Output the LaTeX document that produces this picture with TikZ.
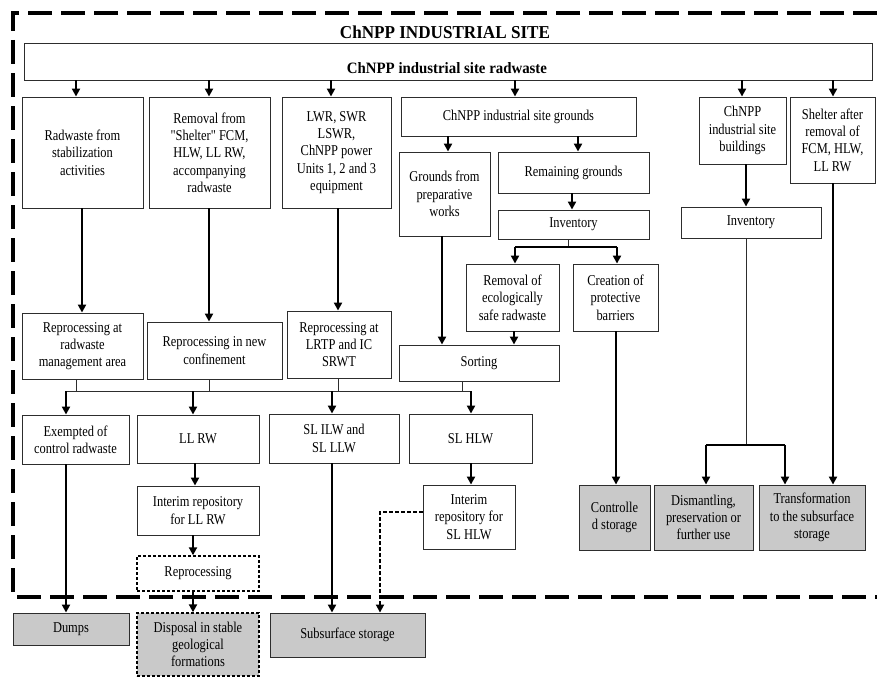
\documentclass[tikz,border=0pt]{standalone}
\usepackage{fontspec}
\setmainfont[FakeStretch=0.83,Ligatures=TeXOff]{Liberation Serif}
\newfontfamily\hdfont[FakeStretch=0.94]{Liberation Serif}
\usetikzlibrary{arrows.meta}
\definecolor{boxgray}{RGB}{201,201,201}
\definecolor{linegray}{RGB}{45,45,45}
\begin{document}
\begin{tikzpicture}[x=1pt,y=-1pt,
  box/.style={draw=linegray, line width=0.9pt, fill=white, align=center, inner sep=1pt,
    font=\fontsize{15}{17.3}\selectfont},
  gbox/.style={box, fill=boxgray},
  dbox/.style={box, draw=black, line width=1.4pt, dash pattern=on 3pt off 2pt},
  sz/.style 2 args={minimum width=#1pt, minimum height=#2pt},
  arr/.style={line width=2pt, draw=black, -{Triangle[width=8pt,length=8pt]}},
  darr/.style={line width=1.8pt, draw=black, dash pattern=on 4pt off 2pt, -{Triangle[width=8pt,length=8pt]}},
  thinline/.style={line width=1pt, draw=linegray},
  thickline/.style={line width=2pt, draw=black},
  border/.style={line width=4pt, draw=black, dash pattern=on 24pt off 9pt}
]
\useasboundingbox (0,0) rectangle (877,677);

% outer dashed border
\draw[border] (877,13) -- (13,13) -- (13,597) -- (877,597);

% title and top box
\node[font=\hdfont\bfseries\fontsize{18.2}{20}\selectfont] (title) at (445,32) {ChNPP INDUSTRIAL SITE};
\node[box, sz={848}{37}] (top) at (448,61.5) {};
\node[font=\hdfont\bfseries\fontsize{15.8}{18}\selectfont] (toptext) at (447,68) {ChNPP industrial site radwaste};

% first row
\node[box, sz={121}{111}] (B1) at (82.5,152.5) {Radwaste from\\stabilization\\activities};
\node[box, sz={121}{111}] (B2) at (209.5,152.5) {Removal from\\"Shelter" FCM,\\HLW, LL RW,\\accompanying\\radwaste};
\node[box, sz={109}{111}] (B3) at (336.5,152.5) {LWR, SWR\\LSWR,\\ChNPP power\\Units 1, 2 and 3\\equipment};
\node[box, sz={235}{39}] (B4) at (518.5,116.5) {ChNPP industrial site grounds};
\node[box, sz={87}{67}] (B5) at (742.5,130.5) {ChNPP\\industrial site\\buildings};
\node[box, sz={85}{86}] (B6) at (832.5,140) {Shelter after\\removal of\\FCM, HLW,\\LL RW};

% grounds column
\node[box, sz={91}{84}] (G1) at (444.5,194) {Grounds from\\preparative\\works};
\node[box, sz={151}{41}] (G2) at (573.5,172.5) {Remaining grounds};
\node[box, sz={151}{29}] (G3) at (573.5,224.5) {Inventory};
\node[box, sz={93}{67}] (G4) at (512.5,297.5) {Removal of\\ecologically\\safe radwaste};
\node[box, sz={85}{67}] (G5) at (615.5,297.5) {Creation of\\protective\\barriers};
\node[box, sz={160}{36}] (G6) at (479,363) {Sorting};

% buildings inventory
\node[box, sz={140}{31}] (R2) at (751,222.5) {Inventory};

% reprocessing row
\node[box, sz={121}{66}] (P1) at (82.5,346) {Reprocessing at\\radwaste\\management area};
\node[box, sz={135}{57}] (P2) at (214.5,350.5) {Reprocessing in new\\confinement};
\node[box, sz={104}{67}] (P3) at (339,344.5) {Reprocessing at\\LRTP and IC\\SRWT};

% classification row
\node[box, sz={107}{49}] (E1) at (75.5,439.5) {Exempted of\\control radwaste};
\node[box, sz={122}{48}] (E2) at (198,439) {LL RW};
\node[box, sz={130}{49}] (E3) at (334,438.5) {SL ILW and\\SL LLW};
\node[box, sz={123}{49}] (E4) at (470.5,438.5) {SL HLW};

% interim and reprocessing
\node[box, sz={122}{49}] (I1) at (198,510.5) {Interim repository\\for LL RW};
\node[dbox, sz={122}{35}] (RP) at (198,573.5) {Reprocessing};
\node[box, sz={92}{64}] (I2) at (469,517) {Interim\\repository for\\SL HLW};

% final (grey) boxes
\node[gbox, sz={116}{32}] (DU) at (71,629) {Dumps};
\node[dbox, fill=boxgray, sz={122}{63}] (DI) at (198,644.5) {Disposal in stable\\geological\\formations};
\node[gbox, sz={155}{44}] (SU) at (347.5,635) {Subsurface storage};
\node[gbox, sz={71}{65}] (C1) at (614.5,517.5) {Controlle\\d storage};
\node[gbox, sz={99}{65}] (C2) at (703.5,517.5) {Dismantling,\\preservation or\\further use};
\node[gbox, sz={106}{65}] (C3) at (812,517.5) {Transformation\\to the subsurface\\storage};

% arrows from top box
\draw[arr] (top.south -| 76,0) -- (B1.north -| 76,0);
\draw[arr] (top.south -| 209,0) -- (B2.north -| 209,0);
\draw[arr] (top.south -| 331,0) -- (B3.north -| 331,0);
\draw[arr] (top.south -| 515,0) -- (B4.north -| 515,0);
\draw[arr] (top.south -| 742,0) -- (B5.north -| 742,0);
\draw[arr] (top.south -| 833,0) -- (B6.north -| 833,0);

% first row down to reprocessing
\draw[arr] (B1.south -| 82,0) -- (P1.north -| 82,0);
\draw[arr] (B2.south -| 209,0) -- (P2.north -| 209,0);
\draw[arr] (B3.south -| 338,0) -- (P3.north -| 338,0);

% grounds
\draw[arr] (B4.south -| 448,0) -- (G1.north -| 448,0);
\draw[arr] (B4.south -| 578,0) -- (G2.north -| 578,0);
\draw[arr] (G2.south -| 572,0) -- (G3.north -| 572,0);
\coordinate (gsplit) at (568,247);
\draw[thinline] (G3.south -| gsplit) -- (gsplit);
\draw[thickline] (515,247) -- (617,247);
\draw[arr] (515,247) -- (G4.north -| 515,0);
\draw[arr] (617,247) -- (G5.north -| 617,0);
\draw[arr] (G1.south -| 442,0) -- (G6.north -| 442,0);
\draw[arr] (G4.south -| 514,0) -- (G6.north -| 514,0);

% distribution bus
\coordinate (busL) at (66,391);
\coordinate (busR) at (471,391);
\draw[thinline] (busL) -- (busR);
\draw[thinline] (P1.south -| 76,0) -- (76,391);
\draw[thinline] (P2.south -| 209,0) -- (209,391);
\draw[thinline] (P3.south -| 338,0) -- (338,391);
\draw[thinline] (G6.south -| 462,0) -- (462,391);
\draw[arr] (busL) -- (E1.north -| busL);
\draw[arr] (193,391) -- (E2.north -| 193,0);
\draw[arr] (332,391) -- (E3.north -| 332,0);
\draw[arr] (busR) -- (E4.north -| busR);

% lower chains
\draw[arr] (E1.south -| 66,0) -- (DU.north -| 66,0);
\draw[arr] (E2.south -| 195,0) -- (I1.north -| 195,0);
\draw[arr] (I1.south -| 193,0) -- (RP.north -| 193,0);
\draw[arr] (RP.south -| 193,0) -- (DI.north -| 193,0);
\draw[arr] (E3.south -| 332,0) -- (SU.north -| 332,0);
\draw[arr] (E4.south -| 471,0) -- (I2.north -| 471,0);
\coordinate (dcorner) at (380,512);
\draw[darr] (I2.west |- dcorner) -- (dcorner) -- (SU.north -| dcorner);

% right side
\draw[arr] (B5.south -| 746,0) -- (R2.north -| 746,0);
\coordinate (rsplit) at (746,445);
\draw[thinline] (R2.south -| rsplit) -- (rsplit);
\draw[thickline] (706,445) -- (785,445);
\draw[arr] (706,445) -- (C2.north -| 706,0);
\draw[arr] (785,445) -- (C3.north -| 785,0);
\draw[arr] (B6.south -| 833,0) -- (C3.north -| 833,0);
\draw[arr] (G5.south -| 616,0) -- (C1.north -| 616,0);
\end{tikzpicture}
\end{document}
